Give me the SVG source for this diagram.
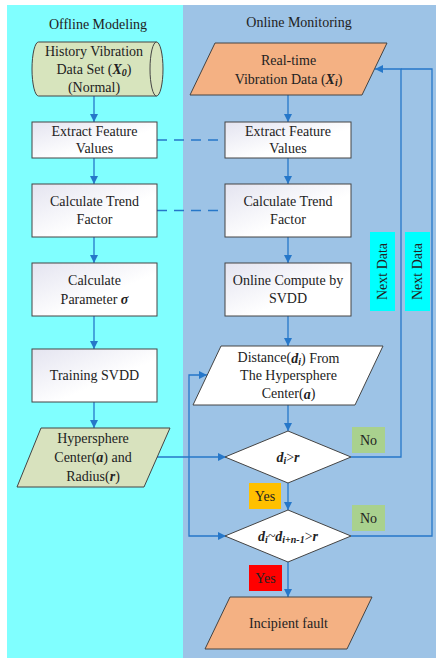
<svg xmlns="http://www.w3.org/2000/svg" width="436" height="658" viewBox="0 0 436 658">
<style>
text{font-family:"Liberation Serif","Times New Roman",serif;font-size:14px;fill:#222;text-anchor:middle;dominant-baseline:central}
.bx{fill:url(#g);stroke:#444;stroke-width:1}
.ln{fill:none;stroke:#2677c9;stroke-width:1.3}
.dash{fill:none;stroke:#2677c9;stroke-width:1.6;stroke-dasharray:10 7}
.sh{stroke:#444;stroke-width:1}
.bi{font-weight:bold;font-style:italic}
</style>
<defs>
<linearGradient id="g" x1="0" y1="0" x2="1" y2="1">
<stop offset="0" stop-color="#e4e4f0"/>
<stop offset="0.6" stop-color="#ffffff"/>
</linearGradient>
<marker id="a" viewBox="0 0 10 10" refX="10" refY="5" markerWidth="8" markerHeight="8" markerUnits="userSpaceOnUse" orient="auto-start-reverse">
<path d="M0,0 L10,5 L0,10 Z" fill="#2677c9"/>
</marker>
</defs>
<rect x="0" y="0" width="436" height="658" fill="#ffffff"/>
<rect x="7" y="5" width="176" height="653" fill="#80ffff"/>
<rect x="183" y="5" width="253" height="653" fill="#9dc3e6"/>
<text x="98" y="24">Offline Modeling</text>
<text x="299" y="22">Online Monitoring</text>

<g id="connectors">
<path class="ln" d="M94,96 V122" marker-end="url(#a)"/>
<path class="ln" d="M94,158 V184" marker-end="url(#a)"/>
<path class="ln" d="M94,237 V263" marker-end="url(#a)"/>
<path class="ln" d="M94,316 V349" marker-end="url(#a)"/>
<path class="ln" d="M94,402 V428" marker-end="url(#a)"/>
<path class="ln" d="M288,95 V122" marker-end="url(#a)"/>
<path class="ln" d="M288,158 V184" marker-end="url(#a)"/>
<path class="ln" d="M288,237 V263" marker-end="url(#a)"/>
<path class="ln" d="M288,316 V346" marker-end="url(#a)"/>
<path class="ln" d="M288,405 V431" marker-end="url(#a)"/>
<path class="ln" d="M288,483 V510" marker-end="url(#a)"/>
<path class="ln" d="M288,562 V597" marker-end="url(#a)"/>
<path class="ln" d="M157,457 H226" marker-end="url(#a)"/>
<path class="ln" d="M207,375 H189 V536 H226" marker-start="url(#a)" marker-end="url(#a)"/>
<path class="ln" d="M351,457 H401 V69 H375" marker-end="url(#a)"/>
<path class="ln" d="M351,536 H432 V69 H401"/>
<path class="dash" d="M157,140 H225"/>
<path class="dash" d="M157,210.5 H225"/>
</g>

<g id="history">
<path d="M38.5,42 H156.5 A6.5,27 0 0 1 156.5,96 H38.5 A6.5,27 0 0 1 38.5,42 Z" fill="#d7e4bd" class="sh"/>
<path d="M156.5,42 A6.5,27 0 0 0 156.5,96" fill="none" class="sh"/>
<text x="94" y="51">History Vibration</text>
<text x="94" y="69">Data Set (<tspan class="bi">X</tspan><tspan class="bi" font-size="10" dy="3">0</tspan><tspan dy="-3">)</tspan></text>
<text x="94" y="87">(Normal)</text>
</g>
<g id="extract1">
<rect class="bx" x="32" y="122" width="125" height="36"/>
<text x="94.5" y="131">Extract Feature</text>
<text x="94.5" y="148">Values</text>
</g>
<g id="trend1">
<rect class="bx" x="32" y="184" width="125" height="53"/>
<text x="94.5" y="201.5">Calculate Trend</text>
<text x="94.5" y="219.5">Factor</text>
</g>
<g id="param">
<rect class="bx" x="32" y="263" width="125" height="53"/>
<text x="94.5" y="280">Calculate</text>
<text x="94.5" y="299">Parameter <tspan class="bi">σ</tspan></text>
</g>
<g id="training">
<rect class="bx" x="32" y="349" width="125" height="53"/>
<text x="94.5" y="375.5">Training SVDD</text>
</g>
<g id="hypersphere">
<path d="M41,428 H170 L144,487 H17 Z" fill="#d8e2be" class="sh"/>
<text x="93" y="438">Hypersphere</text>
<text x="93" y="457">Center(<tspan class="bi">a</tspan>) and</text>
<text x="93" y="476">Radius(<tspan class="bi">r</tspan>)</text>
</g>

<g id="realtime">
<path d="M215,43 H387 L362,95 H190 Z" fill="#f4b183" class="sh"/>
<text x="288.5" y="60">Real-time</text>
<text x="288.5" y="79">Vibration Data (<tspan class="bi">X</tspan><tspan class="bi" font-size="10" dy="3">i</tspan><tspan dy="-3">)</tspan></text>
</g>
<g id="extract2">
<rect class="bx" x="225" y="122" width="126" height="36"/>
<text x="288" y="131">Extract Feature</text>
<text x="288" y="148">Values</text>
</g>
<g id="trend2">
<rect class="bx" x="225" y="184" width="126" height="53"/>
<text x="288" y="201.5">Calculate Trend</text>
<text x="288" y="219.5">Factor</text>
</g>
<g id="online">
<rect class="bx" x="225" y="263" width="126" height="53"/>
<text x="288" y="280.5">Online Compute by</text>
<text x="288" y="298">SVDD</text>
</g>
<g id="distance">
<path d="M221,346 H383 L355,405 H193 Z" fill="#ffffff" class="sh"/>
<text x="288.5" y="357.5">Distance(<tspan class="bi">d</tspan><tspan class="bi" font-size="10" dy="3">i</tspan><tspan dy="-3">) From</tspan></text>
<text x="288.5" y="375.5">The Hypersphere</text>
<text x="288.5" y="393.5">Center(<tspan class="bi">a</tspan>)</text>
</g>
<g id="decision1">
<path d="M225,457 L288,431 L351,457 L288,483 Z" fill="#ffffff" class="sh"/>
<text x="288" y="457" class="bi"><tspan>d</tspan><tspan font-size="10" dy="3">i</tspan><tspan dy="-3" font-style="normal" font-weight="normal">&gt;</tspan><tspan>r</tspan></text>
</g>
<g id="decision2">
<path d="M225,536 L288,510 L351,536 L288,562 Z" fill="#ffffff" class="sh"/>
<text x="288" y="536" class="bi"><tspan>d</tspan><tspan font-size="10" dy="3">i</tspan><tspan dy="-3" font-weight="normal">~</tspan><tspan>d</tspan><tspan font-size="10" dy="3">i+n-1</tspan><tspan dy="-3" font-style="normal" font-weight="normal">&gt;</tspan><tspan>r</tspan></text>
</g>
<g id="fault">
<path d="M230,597 H372 L347,649 H205 Z" fill="#f4b183" class="sh"/>
<text x="288.5" y="623">Incipient fault</text>
</g>

<g id="labels">
<rect x="249" y="483" width="32" height="26" fill="#ffc000"/>
<text x="265" y="496">Yes</text>
<rect x="249" y="565" width="33" height="26" fill="#ff0000"/>
<text x="265.5" y="578">Yes</text>
<rect x="352" y="427" width="33" height="26" fill="#a9d18e"/>
<text x="368.5" y="440">No</text>
<rect x="352" y="505" width="33" height="26" fill="#a9d18e"/>
<text x="368.5" y="518">No</text>
<rect x="370" y="232" width="25" height="79" fill="#00ffff"/>
<text transform="translate(382.5,271.5) rotate(-90)">Next Data</text>
<rect x="405" y="232" width="25" height="79" fill="#00ffff"/>
<text transform="translate(417.5,271.5) rotate(-90)">Next Data</text>
</g>
</svg>
